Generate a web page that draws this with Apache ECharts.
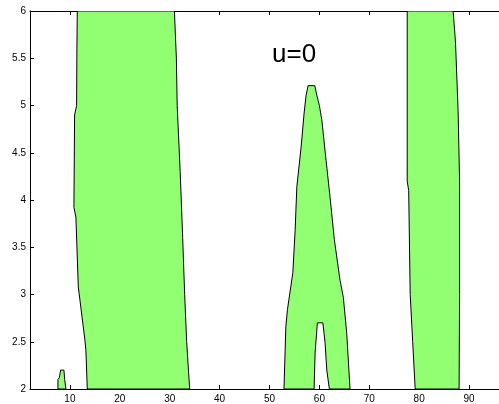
<!DOCTYPE html>
<html>
<head>
<meta charset="utf-8">
<script src="https://cdn.jsdelivr.net/npm/echarts@6/dist/echarts.min.js"></script>
<style>
html, body { margin: 0; padding: 0; background: #fff; }
#main { width: 499px; height: 404px; }
</style>
</head>
<body>
<div id="main"></div>
<script>
// tick labels
var xTicks = [10, 20, 30, 40, 50, 60, 70, 80, 90];
var yTicks = [2, 2.5, 3, 3.5, 4, 4.5, 5, 5.5, 6];

// region outlines (x, y pairs)
// small bump near x=8
var bumpX = [7.6, 7.6, 7.88, 8.14, 8.8, 8.95, 9.2];
var bumpY = [2.0, 2.1, 2.12, 2.2, 2.2, 2.1, 2.0];

// wide band 11..34
var band1X = [13.48, 13.2, 13.0, 11.68, 11.2, 10.8, 10.94, 11.34, 11.4, 11.48,
              30.94, 31.34, 31.5, 32.1, 32.6, 33.0, 33.4, 34.0];
var band1Y = [2.0, 2.41, 2.52, 3.08, 3.82, 3.92, 4.9, 5.0, 5.6, 6.0,
              6.0, 5.5, 5.0, 4.3, 3.6, 3.0, 2.5, 2.0];

// peak around x=58 with the notch at the bottom
var peakX = [52.9, 53.28, 53.6, 54.68, 55.14, 55.48, 56.34, 56.94, 57.34, 57.74,
             59.08, 59.48, 60.0, 60.48, 61.34, 62.14, 63.0, 64.14, 64.8, 65.48, 66.14,
             62.0, 61.48, 61.14, 60.7, 59.6, 59.14, 58.94];
var peakY = [2.0, 2.66, 2.84, 3.23, 3.68, 4.14, 4.56, 4.92, 5.11, 5.21,
             5.21, 5.11, 5.0, 4.85, 4.42, 4.03, 3.58, 3.15, 2.97, 2.59, 2.0,
             2.0, 2.2, 2.49, 2.7, 2.7, 2.38, 2.0];

// band 78..88
var band2X = [79.2, 78.7, 78.2, 77.9, 77.6, 77.6,
              86.8, 87.1, 87.3, 87.8, 88.1, 88.1, 88.0];
var band2Y = [2.0, 2.5, 3.0, 4.1, 4.2, 6.0,
              6.0, 5.8, 5.65, 4.95, 4.2, 3.0, 2.0];

var shapes = [[bumpX, bumpY], [band1X, band1Y], [peakX, peakY], [band2X, band2Y]];

var myChart = echarts.init(document.getElementById('main'));

function renderRegion(params, api) {
    var s = shapes[api.value(0)];
    var pts = [];
    for (var i = 0; i < s[0].length; i++) {
        pts.push(api.coord([s[0][i], s[1][i]]));
    }
    return {
        type: 'polygon',
        shape: { points: pts },
        style: { fill: '#92ff72', stroke: '#000', lineWidth: 1 }
    };
}

var labelFont = { fontFamily: 'Liberation Sans, Arial', fontSize: 10, color: '#000' };

option = {
    animation: false,
    backgroundColor: '#fff',
    grid: { left: 30, top: 11, width: 470, bottom: 15 },
    xAxis: [{
        type: 'value',
        min: 2,
        max: 96,
        axisLine: { show: true, onZero: false, lineStyle: { color: '#000', width: 1 } },
        axisTick: { show: true, inside: true, length: 4, customValues: xTicks, lineStyle: { color: '#000' } },
        axisLabel: Object.assign({ customValues: xTicks, margin: 5 }, labelFont),
        splitLine: { show: false }
    }, {
        type: 'value',
        position: 'top',
        min: 2,
        max: 96,
        axisLine: { show: true, onZero: false, lineStyle: { color: '#000', width: 1 } },
        axisTick: { show: true, inside: true, length: 4, customValues: xTicks, lineStyle: { color: '#000' } },
        axisLabel: { show: false },
        splitLine: { show: false }
    }],
    yAxis: {
        type: 'value',
        min: 2,
        max: 6,
        axisLine: { show: true, onZero: false, lineStyle: { color: '#000', width: 1 } },
        axisTick: { show: true, inside: true, length: 4, customValues: yTicks, lineStyle: { color: '#000' } },
        axisLabel: Object.assign({ customValues: yTicks, margin: 4 }, labelFont),
        splitLine: { show: false }
    },
    graphic: [{
        type: 'text',
        left: 272,
        top: 42,
        style: { text: 'u=0', font: '26px "Liberation Sans", Arial', fill: '#000' }
    }],
    series: [{
        type: 'custom',
        renderItem: renderRegion,
        clip: true,
        data: [[0], [1], [2], [3]]
    }]
};
myChart.setOption(option, true);
</script>
</body>
</html>
